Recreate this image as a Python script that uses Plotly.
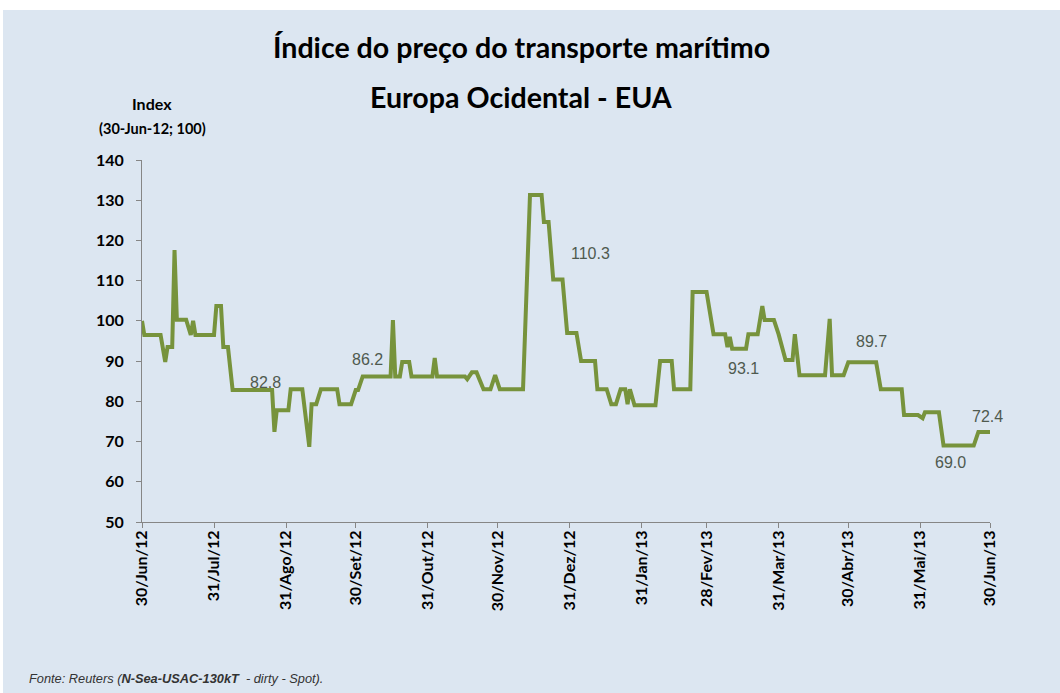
import plotly.graph_objects as go

# ---- data ----
dates = ["2012-06-30","2012-07-01","2012-07-08","2012-07-10","2012-07-11","2012-07-13","2012-07-14","2012-07-15",
         "2012-07-19","2012-07-21","2012-07-22","2012-07-23","2012-07-31","2012-08-01","2012-08-03","2012-08-04",
         "2012-08-06","2012-08-08","2012-08-25","2012-08-26","2012-08-27","2012-09-01","2012-09-02","2012-09-07",
         "2012-09-10","2012-09-11","2012-09-13","2012-09-15","2012-09-22","2012-09-23","2012-09-28","2012-09-30",
         "2012-10-01","2012-10-03","2012-10-15","2012-10-16","2012-10-17","2012-10-19","2012-10-20","2012-10-23",
         "2012-10-24","2012-11-02","2012-11-03","2012-11-04","2012-11-16","2012-11-17","2012-11-19","2012-11-21",
         "2012-11-24","2012-11-27","2012-11-29","2012-12-01","2012-12-11","2012-12-14","2012-12-19","2012-12-20",
         "2012-12-22","2012-12-24","2012-12-28","2012-12-30","2013-01-03","2013-01-05","2013-01-11","2013-01-12",
         "2013-01-16","2013-01-18","2013-01-20","2013-01-22","2013-01-24","2013-01-25","2013-01-26","2013-01-28",
         "2013-02-06","2013-02-08","2013-02-13","2013-02-14","2013-02-21","2013-02-22","2013-02-28","2013-03-03",
         "2013-03-08","2013-03-09","2013-03-10","2013-03-11","2013-03-17","2013-03-18","2013-03-22","2013-03-24",
         "2013-03-25","2013-03-29","2013-03-31","2013-04-03","2013-04-06","2013-04-07","2013-04-09","2013-04-20",
         "2013-04-22","2013-04-23","2013-04-28","2013-04-30","2013-05-12","2013-05-14","2013-05-23","2013-05-24",
         "2013-05-30","2013-06-01","2013-06-02","2013-06-08","2013-06-10","2013-06-23","2013-06-25","2013-06-30"]
values = [100.0, 96.5, 96.5, 89.8, 93.5, 93.5, 117.6, 100.3,
          100.3, 96.5, 100.0, 96.5, 96.5, 103.7, 103.7, 93.5,
          93.5, 82.8, 82.8, 72.4, 77.8, 77.8, 83.0, 83.0,
          68.7, 79.3, 79.3, 83.0, 83.0, 79.3, 79.3, 82.8,
          82.8, 86.2, 86.2, 100.2, 86.2, 86.2, 89.8, 89.8,
          86.2, 86.2, 90.8, 86.2, 86.2, 85.5, 87.2, 87.2,
          83.0, 83.0, 86.5, 83.0, 83.0, 131.3, 131.3, 124.6,
          124.6, 110.3, 110.3, 97.0, 97.0, 90.0, 90.0, 83.0,
          83.0, 79.3, 79.3, 83.0, 83.0, 79.3, 83.0, 79.0,
          79.0, 90.0, 90.0, 83.0, 83.0, 107.2, 107.2, 96.7,
          96.7, 93.5, 96.0, 93.1, 93.1, 96.7, 96.7, 103.7,
          100.2, 100.2, 96.7, 90.3, 90.3, 96.7, 86.5, 86.5,
          100.5, 86.5, 86.5, 89.7, 89.7, 83.0, 83.0, 76.6,
          76.6, 75.8, 77.3, 77.3, 69.0, 69.0, 72.4, 72.4]

tick_dates = ["2012-06-30","2012-07-31","2012-08-31","2012-09-30","2012-10-31","2012-11-30","2012-12-31",
              "2013-01-31","2013-02-28","2013-03-31","2013-04-30","2013-05-31","2013-06-30"]
tick_labels = ["30/Jun/12","31/Jul/12","31/Ago/12","30/Set/12","31/Out/12","30/Nov/12","31/Dez/12",
               "31/Jan/13","28/Fev/13","31/Mar/13","30/Abr/13","31/Mai/13","30/Jun/13"]

label_dates = ["2012-08-22","2012-10-05","2013-01-09","2013-03-16","2013-05-10","2013-06-13","2013-06-29"]
label_values = [82.8, 86.2, 110.3, 93.1, 89.7, 69.0, 72.4]

# ---- styling / layout ----
W, H = 1060, 693
L, R, T, B = 142, 990, 160, 522
label_yshift = [8, 17, 26, -20, 21, -17, 15]

def px(x):
    return (x - L) / (R - L)

def py(y):
    return 1 + (T - y) / (B - T)

BG = "#dce6f1"
fig = go.Figure()
fig.add_trace(go.Scatter(x=dates, y=values, mode="lines",
                         line=dict(color="#77933c", width=4), hoverinfo="x+y", showlegend=False))

annotations = []
for d, v, ys in zip(label_dates, label_values, label_yshift):
    annotations.append(dict(x=d, y=v, xref="x", yref="y", text=f"{v:.1f}", showarrow=False,
                            yshift=ys, font=dict(family="Liberation Sans, Arial", size=16, color="#4f5a4f")))

annotations += [
    dict(x=px(521), y=py(47), xref="paper", yref="paper", text="Índice do preço do transporte marítimo",
         showarrow=False, xanchor="center", yanchor="middle",
         font=dict(family="Lato", size=28.6, color="#000000", weight="bold")),
    dict(x=px(521), y=py(97), xref="paper", yref="paper", text="Europa Ocidental - EUA",
         showarrow=False, xanchor="center", yanchor="middle",
         font=dict(family="Lato", size=28.6, color="#000000", weight="bold")),
    dict(x=px(152), y=py(103), xref="paper", yref="paper", text="Index",
         showarrow=False, xanchor="center", yanchor="middle",
         font=dict(family="Lato", size=16, color="#000000", weight="bold")),
    dict(x=px(152), y=py(128), xref="paper", yref="paper", text="(30-Jun-12; 100)",
         showarrow=False, xanchor="center", yanchor="middle",
         font=dict(family="Lato", size=14.5, color="#000000", weight="bold")),
    dict(x=px(27), y=py(678), xref="paper", yref="paper",
         text="<i>Fonte: Reuters (<b>N-Sea-USAC-130kT</b>  - dirty - Spot).</i>",
         showarrow=False, xanchor="left", yanchor="middle",
         font=dict(family="Liberation Sans, Arial", size=12.8, color="#333333")),
]

shapes = [
    dict(type="rect", xref="paper", yref="paper", x0=px(0), x1=px(W), y0=py(0), y1=py(10),
         fillcolor="#ffffff", line=dict(width=0), layer="below"),
    dict(type="rect", xref="paper", yref="paper", x0=px(0), x1=px(3), y0=py(0), y1=py(H),
         fillcolor="#ffffff", line=dict(width=0), layer="below"),
]

fig.update_layout(
    width=W, height=H,
    margin=dict(l=L, r=W - R, t=T, b=H - B, pad=0),
    paper_bgcolor=BG, plot_bgcolor=BG,
    annotations=annotations, shapes=shapes,
    showlegend=False,
    xaxis=dict(type="date", range=["2012-06-30", "2013-06-30"], tickmode="array",
               tickvals=tick_dates, ticktext=tick_labels, tickangle=-90,
               showgrid=False, zeroline=False, showline=True, linecolor="#868686", linewidth=1,
               ticks="outside", ticklen=5, tickcolor="#868686", ticklabelstandoff=-4,
               tickfont=dict(family="Lato", size=16, color="#000000", weight="bold")),
    yaxis=dict(range=[50, 140], tickmode="linear", tick0=50, dtick=10,
               showgrid=False, zeroline=False, showline=True, linecolor="#868686", linewidth=1,
               ticks="outside", ticklen=5, tickcolor="#868686", ticklabelstandoff=9,
               tickfont=dict(family="Lato", size=16, color="#000000", weight="bold")),
)

fig.write_html("out.html", config={"displayModeBar": False},
               post_script="document.body.style.margin='0px';document.body.style.overflow='hidden';")
